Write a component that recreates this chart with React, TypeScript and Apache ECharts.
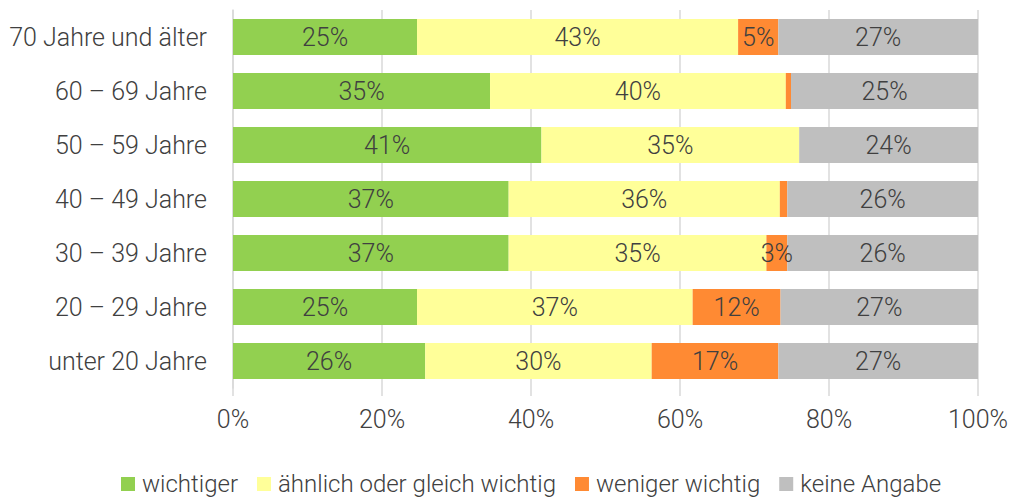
import React, { useEffect, useRef } from "react";
import * as echarts from "echarts";

const categories = [
  "unter 20 Jahre",
  "20 – 29 Jahre",
  "30 – 39 Jahre",
  "40 – 49 Jahre",
  "50 – 59 Jahre",
  "60 – 69 Jahre",
  "70 Jahre und älter",
];
const seriesNames = ["wichtiger", "ähnlich oder gleich wichtig", "weniger wichtig", "keine Angabe"];
const wichtiger = [25.8, 24.7, 37.0, 37.0, 41.4, 34.5, 24.7];
const aehnlich = [30.4, 37.0, 34.6, 36.4, 34.6, 39.7, 43.1];
const weniger = [17.0, 11.8, 2.8, 1.0, 0, 0.7, 5.4];
const keine = [26.8, 26.5, 25.6, 25.6, 24.0, 25.1, 26.8];
const xTicks = [0, 20, 40, 60, 80, 100];
const colors = ["#92d050", "#ffff99", "#ff8a33", "#bfbfbf"];

const FONT = "Roboto";
const TXT = "#404040";

export default function App() {
  const ref = useRef<HTMLDivElement>(null);
  useEffect(() => {
    const chart = echarts.init(ref.current!, undefined, { renderer: "svg" });
    const data = [wichtiger, aehnlich, weniger, keine];
    chart.setOption({
      animation: false,
      color: colors,
      textStyle: { fontFamily: FONT },
      grid: { left: 233, right: 39, top: 10, height: 378, containLabel: false },
      legend: {
        top: 467,
        left: 116,
        itemWidth: 14,
        itemHeight: 14,
        itemGap: 19,
        icon: "rect",
        textStyle: { fontSize: 24, color: TXT, fontFamily: FONT, fontWeight: 300, padding: [0, 0, 0, 2] },
        data: seriesNames,
      },
      xAxis: {
        type: "value",
        min: xTicks[0],
        max: xTicks[xTicks.length - 1],
        interval: 20,
        axisLine: { show: false },
        axisTick: { show: true, length: 8, lineStyle: { color: "#d9d9d9", width: 1.5 } },
        splitLine: { show: true, lineStyle: { color: "#d9d9d9", width: 1.5 } },
        axisLabel: {
          formatter: (v: number) => v + "%",
          fontSize: 25,
          color: TXT,
          fontWeight: 300,
          margin: 19,
        },
      },
      yAxis: {
        type: "category",
        data: categories,
        axisLine: { show: true, lineStyle: { color: "#d9d9d9", width: 1.5 } },
        axisTick: { show: false },
        axisLabel: { fontSize: 25, color: TXT, fontWeight: 300, margin: 26 },
      },
      series: seriesNames.map((name, i) => ({
        name,
        type: "bar",
        stack: "total",
        barWidth: 36,
        data: data[i],
        label: {
          show: true,
          position: "inside",
          fontSize: 25,
          color: TXT,
          fontWeight: 300,
          fontFamily: FONT,
          formatter: (p: any) => (p.value >= 2 ? Math.round(p.value) + "%" : ""),
        },
      })),
    });
    return () => chart.dispose();
  }, []);
  return (
    <div
      ref={ref}
      style={{ position: "absolute", left: 0, top: 0, width: 1017, height: 501 }}
    />
  );
}
